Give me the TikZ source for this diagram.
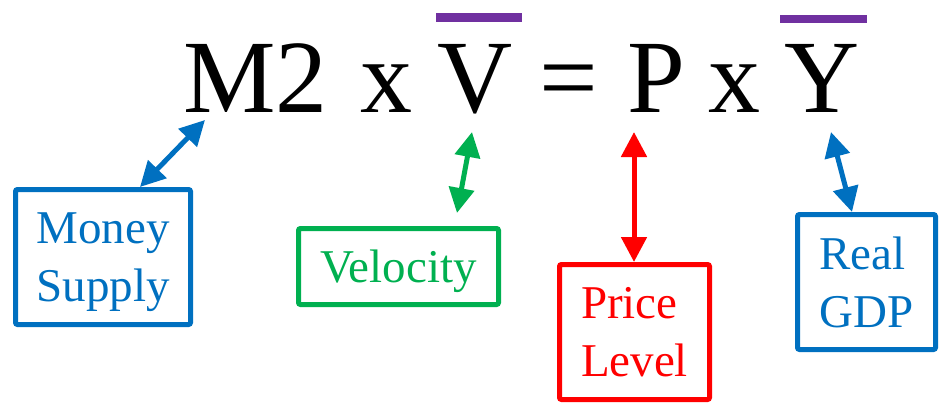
\documentclass[tikz,border=0pt]{standalone}
\usepackage{fontspec}
\setmainfont{Liberation Serif}
\usetikzlibrary{arrows.meta}
\definecolor{cblue}{HTML}{0070C0}
\definecolor{cgreen}{HTML}{00B050}
\definecolor{cred}{HTML}{FF0000}
\definecolor{cpurple}{HTML}{7030A0}
\begin{document}
\begin{tikzpicture}[x=1pt,y=-1pt,
  eq/.style={font=\fontsize{104}{110}\selectfont, inner sep=0pt, anchor=base},
  lbl/.style={draw, line width=5pt, rounded corners=2pt, inner sep=0pt, align=left,
    text depth=0pt, font=\fontsize{47}{57.5}\selectfont},
  arr/.style={line width=5pt, {Triangle[length=25pt,width=25pt]}-{Triangle[length=25pt,width=25pt]}},
  bar/.style={fill=cpurple}]
\useasboundingbox (0,0) rectangle (943,404);
% equation
\node[eq] (M2) at (255.5,112) {M2};
\node[eq] (x1) at (386,112) {x};
\node[eq] (V)  at (475,112) {V};
\node[eq] (eqs) at (569,112) {=};
\node[eq] (P)  at (656,112) {P};
\node[eq] (x2) at (734,112) {x};
\node[eq] (Y)  at (822,112) {Y};
\fill[bar] (436,13) rectangle (522,22);
\fill[bar] (780,15) rectangle (867,23);
% boxes
\node[lbl, draw=cblue, text=cblue, minimum width=175pt, minimum height=135pt] (ms) at (103,257) {Money\\Supply};
\node[lbl, draw=cgreen, text=cgreen, minimum width=200pt, minimum height=76pt] (vel) at (398.5,266.5) {Velocity};
\node[lbl, draw=cred, text=cred, minimum width=150pt, minimum height=135pt] (pl) at (634.5,332) {Price\\Level};
\node[lbl, draw=cblue, text=cblue, minimum width=138pt, minimum height=135pt] (gdp) at (866.5,282) {Real\\GDP};
% arrow ends
\coordinate (mTip) at (205,120);
\coordinate (vTip) at (472,132);
\coordinate (vBot) at (457,213);
\coordinate (pTip) at (634,132);
\coordinate (yTip) at (831,132);
\draw[arr, cblue] ([xshift=37pt]ms.north) -- (mTip);
\draw[arr, cgreen] (vBot) -- (vTip);
\draw[arr, cred] ([xshift=-0.5pt]pl.north) -- (pTip);
\draw[arr, cblue] ([xshift=-14.5pt]gdp.north) -- (yTip);
\end{tikzpicture}
\end{document}
